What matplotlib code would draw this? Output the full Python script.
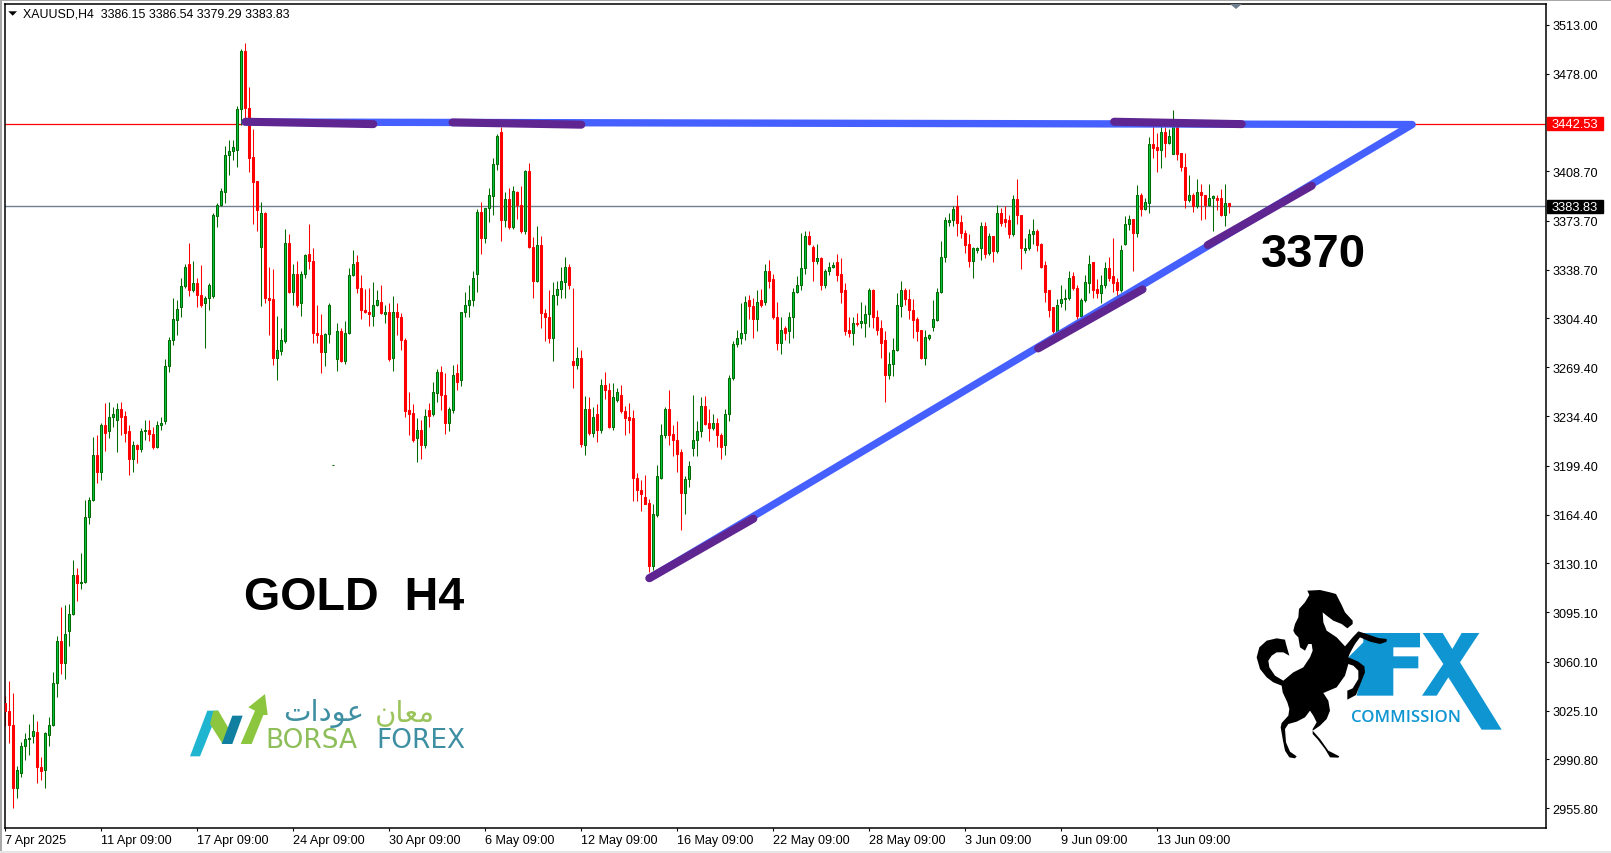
import numpy as np
import matplotlib
matplotlib.use("Agg")
import matplotlib.pyplot as plt
from matplotlib.patches import Polygon, Rectangle
from matplotlib.transforms import blended_transform_factory

plt.rcParams["font.family"] = ["Liberation Sans", "DejaVu Sans"]

# XAUUSD H4 candles
opens = [
    3031, 3025, 3015, 2970, 2981, 3000, 3005, 3007, 3010, 2985,
    2983, 3008, 3015, 3045, 3075, 3059, 3082, 3094, 3122, 3116,
    3117, 3163, 3175, 3207, 3195, 3228, 3224, 3234, 3232, 3240,
    3235, 3224, 3204, 3214, 3211, 3224, 3225, 3222, 3213, 3228,
    3231, 3270, 3289, 3303, 3312, 3327, 3343, 3324, 3329, 3321,
    3315, 3319, 3320, 3377, 3385, 3394, 3420, 3423, 3424, 3453,
    3494, 3454, 3419, 3402, 3355, 3379, 3319, 3318, 3276, 3281,
    3288, 3358, 3323, 3336, 3315, 3336, 3350, 3345, 3294, 3292,
    3280, 3293, 3200, 3275, 3295, 3274, 3294, 3335, 3344, 3326,
    3310, 3309, 3306, 3314, 3316, 3307, 3309, 3276, 3309, 3305,
    3289, 3239, 3237, 3219, 3225, 3214, 3239, 3236, 3251, 3266,
    3250, 3230, 3239, 3265, 3260, 3309, 3314, 3317, 3336, 3380,
    3361, 3383, 3391, 3414, 3437, 3374, 3389, 3369, 3394, 3385,
    3366, 3409, 3355, 3331, 3356, 3308, 3305, 3290, 3321, 3325,
    3330, 3341, 3274, 3271, 3276, 3214, 3240, 3223, 3236, 3225,
    3257, 3253, 3227, 3246, 3250, 3238, 3234, 3233, 3191, 3182,
    3177, 3173, 3128, 3164, 3191, 3221, 3240, 3222, 3218, 3209,
    3180, 3190, 3212, 3218, 3224, 3242, 3230, 3226, 3230, 3221,
    3214, 3236, 3262, 3286, 3290, 3294, 3317, 3313, 3304, 3317,
    3316, 3338, 3332, 3305, 3287, 3297, 3295, 3305, 3323, 3328,
    3340, 3363, 3355, 3345, 3347, 3328, 3338, 3341, 3344, 3336,
    3324, 3296, 3294, 3301, 3301, 3301, 3307, 3324, 3305, 3297,
    3289, 3264, 3272, 3282, 3313, 3324, 3318, 3310, 3304, 3296,
    3276, 3290, 3298, 3303, 3323, 3348, 3373, 3374, 3384, 3373,
    3365, 3357, 3345, 3353, 3354, 3370, 3351, 3363, 3352, 3379,
    3375, 3374, 3364, 3389, 3378, 3353, 3354, 3364, 3366, 3357,
    3342, 3324, 3312, 3295, 3315, 3318, 3319, 3334, 3326, 3306,
    3317, 3329, 3344, 3325, 3322, 3328, 3340, 3334, 3330, 3324,
    3357, 3371, 3375, 3365, 3392, 3382, 3386, 3428, 3426, 3424,
    3437, 3429, 3421, 3443, 3422, 3412, 3388, 3392, 3384, 3394,
    3392, 3385, 3390, 3390, 3390, 3378, 3386.15,
]
highs = [
    3036, 3046, 3038, 2986, 3003, 3009, 3016, 3023, 3018, 2992,
    3010, 3021, 3053, 3078, 3099, 3100, 3101, 3132, 3127, 3137,
    3175, 3177, 3220, 3221, 3230, 3244, 3245, 3241, 3244, 3245,
    3238, 3228, 3217, 3215, 3226, 3232, 3232, 3227, 3231, 3234,
    3275, 3291, 3319, 3317, 3333, 3343, 3358, 3345, 3333, 3342,
    3320, 3329, 3379, 3386, 3397, 3427, 3431, 3431, 3455, 3496,
    3500, 3469, 3439, 3402, 3387, 3380, 3341, 3339, 3306, 3297,
    3368, 3364, 3343, 3345, 3338, 3350, 3371, 3354, 3314, 3307,
    3294, 3315, 3200, 3301, 3297, 3302, 3340, 3353, 3349, 3335,
    3325, 3326, 3330, 3324, 3328, 3314, 3315, 3320, 3315, 3308,
    3290, 3252, 3243, 3233, 3232, 3240, 3244, 3259, 3268, 3270,
    3265, 3241, 3271, 3272, 3309, 3323, 3328, 3338, 3382, 3387,
    3383, 3397, 3418, 3435, 3440, 3394, 3397, 3398, 3395, 3398,
    3410, 3415, 3362, 3370, 3363, 3311, 3324, 3330, 3331, 3341,
    3348, 3343, 3326, 3284, 3282, 3249, 3248, 3241, 3243, 3261,
    3266, 3258, 3258, 3255, 3257, 3242, 3244, 3239, 3194, 3189,
    3193, 3176, 3172, 3200, 3229, 3241, 3253, 3228, 3231, 3211,
    3192, 3203, 3250, 3231, 3248, 3249, 3240, 3236, 3233, 3223,
    3240, 3264, 3288, 3296, 3315, 3320, 3321, 3319, 3324, 3325,
    3343, 3346, 3336, 3316, 3305, 3299, 3309, 3326, 3334, 3365,
    3366, 3366, 3356, 3357, 3348, 3339, 3344, 3344, 3350, 3347,
    3329, 3305, 3305, 3308, 3316, 3314, 3326, 3325, 3310, 3303,
    3295, 3280, 3290, 3322, 3331, 3326, 3325, 3318, 3305, 3296,
    3296, 3293, 3317, 3326, 3359, 3376, 3379, 3384, 3392, 3378,
    3367, 3364, 3355, 3355, 3373, 3373, 3365, 3363, 3385, 3383,
    3384, 3378, 3392, 3403, 3378, 3361, 3368, 3375, 3368, 3358,
    3345, 3324, 3312, 3318, 3328, 3325, 3338, 3337, 3328, 3319,
    3335, 3349, 3344, 3332, 3335, 3344, 3348, 3361, 3333, 3356,
    3377, 3378, 3375, 3399, 3393, 3390, 3433, 3441, 3436, 3441,
    3440, 3439, 3452, 3446, 3422, 3422, 3406, 3393, 3403, 3400,
    3392, 3400, 3392, 3392, 3396, 3400, 3386.54,
]
lows = [
    3014, 3002, 2956, 2963, 2978, 2990, 2994, 3002, 2974, 2976,
    2970, 3000, 3014, 3035, 3051, 3048, 3071, 3093, 3103, 3112,
    3116, 3158, 3174, 3187, 3189, 3210, 3219, 3227, 3209, 3221,
    3216, 3193, 3195, 3201, 3209, 3218, 3217, 3211, 3212, 3225,
    3229, 3266, 3285, 3292, 3305, 3326, 3320, 3323, 3312, 3312,
    3283, 3310, 3319, 3369, 3384, 3386, 3406, 3417, 3412, 3442,
    3447, 3408, 3371, 3366, 3313, 3315, 3292, 3271, 3260, 3278,
    3287, 3322, 3314, 3312, 3306, 3333, 3339, 3287, 3287, 3265,
    3270, 3287, 3200, 3267, 3273, 3272, 3293, 3334, 3322, 3304,
    3308, 3299, 3299, 3313, 3307, 3301, 3274, 3267, 3292, 3282,
    3234, 3221, 3216, 3202, 3204, 3212, 3227, 3235, 3245, 3239,
    3222, 3224, 3237, 3253, 3256, 3305, 3305, 3313, 3323, 3350,
    3358, 3373, 3378, 3410, 3359, 3369, 3368, 3368, 3375, 3365,
    3364, 3354, 3319, 3330, 3297, 3288, 3287, 3274, 3314, 3319,
    3319, 3325, 3255, 3268, 3213, 3207, 3221, 3220, 3216, 3223,
    3247, 3226, 3225, 3245, 3237, 3221, 3223, 3174, 3174, 3167,
    3172, 3124, 3125, 3163, 3190, 3219, 3214, 3206, 3195, 3154,
    3165, 3184, 3206, 3206, 3220, 3228, 3217, 3225, 3213, 3204,
    3207, 3231, 3260, 3284, 3286, 3289, 3304, 3290, 3295, 3312,
    3314, 3326, 3304, 3282, 3279, 3289, 3287, 3290, 3322, 3324,
    3336, 3356, 3331, 3343, 3324, 3326, 3335, 3340, 3331, 3315,
    3292, 3291, 3285, 3299, 3297, 3291, 3298, 3297, 3292, 3276,
    3245, 3261, 3263, 3281, 3305, 3314, 3304, 3290, 3288, 3275,
    3271, 3289, 3295, 3302, 3322, 3344, 3370, 3370, 3363, 3361,
    3351, 3341, 3333, 3351, 3346, 3347, 3349, 3344, 3351, 3370,
    3369, 3361, 3363, 3371, 3339, 3351, 3353, 3357, 3352, 3340,
    3316, 3305, 3294, 3294, 3312, 3310, 3317, 3324, 3304, 3305,
    3316, 3322, 3319, 3319, 3315, 3326, 3331, 3323, 3320, 3323,
    3356, 3367, 3338, 3362, 3377, 3381, 3379, 3418, 3408, 3411,
    3419, 3428, 3421, 3417, 3409, 3383, 3387, 3380, 3383, 3374,
    3375, 3384, 3366, 3381, 3377, 3370, 3379.29,
]
closes = [
    3025, 3015, 2970, 2983, 3000, 3005, 3006, 3011, 2985, 2982,
    3009, 3015, 3045, 3075, 3059, 3080, 3094, 3122, 3116, 3117,
    3163, 3175, 3207, 3195, 3228, 3223, 3234, 3236, 3240, 3234,
    3223, 3204, 3214, 3211, 3224, 3225, 3222, 3213, 3228, 3230,
    3270, 3289, 3304, 3311, 3327, 3341, 3324, 3329, 3321, 3314,
    3319, 3328, 3378, 3385, 3395, 3420, 3423, 3426, 3453, 3494,
    3454, 3418, 3401, 3381, 3379, 3319, 3317, 3276, 3282, 3289,
    3358, 3323, 3336, 3314, 3336, 3349, 3345, 3294, 3292, 3280,
    3293, 3314, 3200, 3295, 3274, 3294, 3335, 3343, 3326, 3310,
    3309, 3307, 3314, 3317, 3308, 3309, 3275, 3309, 3305, 3289,
    3238, 3236, 3218, 3225, 3214, 3235, 3235, 3252, 3266, 3250,
    3230, 3240, 3264, 3259, 3309, 3314, 3317, 3333, 3380, 3361,
    3383, 3392, 3414, 3434, 3374, 3389, 3369, 3395, 3385, 3366,
    3409, 3355, 3331, 3356, 3308, 3305, 3290, 3321, 3325, 3331,
    3341, 3328, 3271, 3276, 3215, 3240, 3223, 3234, 3225, 3257,
    3253, 3227, 3248, 3252, 3238, 3233, 3232, 3191, 3182, 3179,
    3172, 3128, 3165, 3192, 3221, 3240, 3221, 3218, 3208, 3180,
    3190, 3199, 3218, 3224, 3242, 3229, 3226, 3230, 3221, 3213,
    3236, 3262, 3286, 3290, 3294, 3316, 3313, 3304, 3316, 3314,
    3338, 3331, 3305, 3287, 3296, 3294, 3305, 3323, 3328, 3340,
    3363, 3357, 3345, 3347, 3328, 3338, 3341, 3342, 3335, 3323,
    3295, 3294, 3301, 3300, 3302, 3307, 3324, 3305, 3296, 3287,
    3264, 3272, 3282, 3314, 3324, 3318, 3310, 3303, 3295, 3276,
    3291, 3292, 3304, 3323, 3348, 3374, 3374, 3382, 3372, 3365,
    3356, 3345, 3354, 3354, 3370, 3350, 3363, 3352, 3379, 3372,
    3373, 3364, 3389, 3378, 3354, 3354, 3364, 3366, 3356, 3341,
    3323, 3310, 3295, 3314, 3318, 3319, 3333, 3326, 3306, 3317,
    3330, 3343, 3324, 3322, 3328, 3340, 3333, 3329, 3324, 3353,
    3371, 3375, 3365, 3392, 3382, 3387, 3428, 3425, 3424, 3437,
    3429, 3434, 3444, 3421, 3412, 3388, 3392, 3384, 3394, 3392,
    3385, 3390, 3391, 3388, 3378, 3386, 3383.83,
]

price_ticks = [3513.00, 3478.00, 3408.70, 3373.70, 3338.70, 3304.40, 3269.40, 3234.40, 3199.40,
               3164.40, 3130.10, 3095.10, 3060.10, 3025.10, 2990.80, 2955.80]
date_ticks = [0, 24, 48, 72, 96, 120, 144, 168, 192, 216, 240, 264, 288]
date_labels = ["7 Apr 2025", "11 Apr 09:00", "17 Apr 09:00", "24 Apr 09:00", "30 Apr 09:00",
               "6 May 09:00", "12 May 09:00", "16 May 09:00", "22 May 09:00", "28 May 09:00",
               "3 Jun 09:00", "9 Jun 09:00", "13 Jun 09:00"]
resistance_level = 3442.53
last_price = 3383.83

# trend lines as (bar index, price)
triangle_x = [59.9, 351.7, 161.0]
triangle_y = [3443.8, 3442.0, 3119.4]
touch_segments = [
    ([60.1, 92.0], [3444.0, 3442.3]),
    ([111.8, 144.0], [3443.5, 3441.9]),
    ([277.2, 309.1], [3444.0, 3442.3]),
    ([161.0, 187.0], [3119.4, 3161.7]),
    ([258.2, 284.3], [3282.8, 3324.8]),
    ([300.6, 326.6], [3356.3, 3398.5]),
]

W, H = 1611, 854
fig = plt.figure(figsize=(W / 100, H / 100), dpi=100, facecolor="white")

# chart frame in pixels
left, right, top, bottom = 4.5, 1545.7, 4.5, 828.5
ax = fig.add_axes([left / W, 1 - bottom / H, (right - left) / W, (bottom - top) / H])
ax.set_xlim((left - 5.33) / 4, (right - 5.33) / 4)
ax.set_ylim(3531.27 - 0.71108 * bottom, 3531.27 - 0.71108 * top)

for side in ax.spines.values():
    side.set_linewidth(1.1)
    side.set_color("black")

# horizontal price lines
ax.axhline(resistance_level, color="#ff0000", lw=0.9, zorder=1)
ax.axhline(last_price, color="#708090", lw=1.0, zorder=1)

# candles
x = np.arange(len(opens))
o, h, l, c = map(np.array, (opens, highs, lows, closes))
up = c >= o
ax.vlines(x[up], l[up], h[up], color="#006a00", lw=0.75, zorder=2)
ax.vlines(x[~up], l[~up], h[~up], color="#ff0000", lw=0.75, zorder=2)
ax.bar(x[up], (c - o)[up], bottom=o[up], width=0.5, color="#00c83c", edgecolor="#006a00",
       linewidth=0.75, zorder=3)
ax.bar(x[~up], (c - o)[~up], bottom=o[~up], width=0.5, color="#ff0000", edgecolor="#ff0000",
       linewidth=0.75, zorder=3)

# triangle and the purple touches on it
ax.plot(triangle_x, triangle_y, color="#4560ff", lw=5.3, solid_capstyle="round",
        solid_joinstyle="round", zorder=4)
for seg_x, seg_y in touch_segments:
    ax.plot(seg_x, seg_y, color="#5f2590", lw=5.8, solid_capstyle="round", zorder=5)

# axis ticks
ax.yaxis.tick_right()
ax.set_yticks(price_ticks)
ax.set_yticklabels(["%.2f" % v for v in price_ticks], fontsize=9.1)
ax.tick_params(axis="y", length=2.5, width=0.8, pad=2.2)
ax.set_xticks(date_ticks)
ax.set_xticklabels(date_labels, fontsize=9.1, ha="left")
ax.tick_params(axis="x", length=2.5, width=0.8, pad=2.5)

# price boxes on the right scale
tr = blended_transform_factory(ax.transAxes, ax.transData)
box_x = 1 + 1.3 / (right - left)
box_w = 55.7 / (right - left)
for level, bg in ((resistance_level, "#ff0000"), (last_price, "#000000")):
    ax.add_patch(Rectangle((box_x, level - 4.6), box_w, 9.2, transform=tr, color=bg, clip_on=False, zorder=6))
    ax.text(1 + 5.5 / (right - left), level - 0.3, "%.2f" % level, transform=tr, color="white", fontsize=9.3,
            va="center", ha="left", zorder=7, clip_on=False)

# everything below is placed in picture pixels
over = fig.add_axes([0, 0, 1, 1], facecolor="none")
over.set_xlim(0, W)
over.set_ylim(H, 0)
over.axis("off")

# window edges
over.add_patch(Rectangle((0, 0), 2, H, color="#a8a8a8", lw=0))
over.add_patch(Rectangle((0, 0), W, 1.5, color="#a8a8a8", lw=0))
over.add_patch(Rectangle((0, 851.5), W, 2.5, color="#e6e6e6", lw=0))

# header
over.add_patch(Polygon([(8.3, 12.3), (17, 12.3), (12.7, 16.7)], color="black", lw=0))
over.text(22.7, 14.6, "XAUUSD,H4  3386.15 3386.54 3379.29 3383.83", fontsize=8.95, va="center", ha="left")
over.add_patch(Polygon([(1230, 5), (1242, 5), (1236, 10)], color="#6d7f90", lw=0))

# big labels
over.text(244, 598, "GOLD  H4", fontsize=33.6, fontweight="bold", va="center", ha="left", color="black")
over.text(1261, 255, "3370", fontsize=34, fontweight="bold", va="center", ha="left", color="black")


def crop_pts(pts, x0, y0):
    # points were read on a 3x crop starting at (x0, y0)
    return np.array(pts, dtype=float) / 3 + [x0, y0]


# BorsaForex logo
over.add_patch(Polygon(crop_pts([(570, 472), (622, 335), (655, 335), (600, 472)], 0, 600), color="#1fb4cf", lw=0))
over.add_patch(Polygon(crop_pts([(640, 335), (655, 335), (690, 395), (668, 435), (630, 375)], 0, 600),
                       color="#8cc63f", lw=0))
over.add_patch(Polygon(crop_pts([(697, 350), (728, 350), (697, 435), (665, 435)], 0, 600), color="#117f9f", lw=0))
over.add_patch(Polygon(crop_pts([(795, 285), (745, 325), (765, 335), (722, 435), (755, 435), (790, 348), (803, 348)],
                                0, 600), color="#8cc63f", lw=0))
over.text(265.5, 741.5, "BORSA", fontsize=19, color="#8dbe5a", family="DejaVu Sans", va="center", ha="left")
over.text(376, 741.5, "FOREX", fontsize=19, color="#3f8fa3", family="DejaVu Sans", va="center", ha="left")
over.text(324, 714, "\ufe95\ufe8d\ufea9\ufeee\ufecb", fontsize=21, color="#3f8fa3", family="DejaVu Sans",
          va="center", ha="center")
over.text(405, 714, "\ufee5\ufe8e\ufecc\ufee3", fontsize=21, color="#9cc45c", family="DejaVu Sans",
          va="center", ha="center")

# FX Commission logo
blue = "#0f96d2"
f_pts = [(400, 192), (570, 192), (570, 235), (490, 235), (490, 262), (565, 262), (565, 298), (490, 298), (490, 380),
         (380, 380), (400, 300), (355, 265), (400, 220)]
x_pts = [(578, 192), (638, 192), (667, 240), (695, 192), (748, 192), (690, 280), (815, 482), (755, 482), (655, 325),
         (620, 380), (576, 380), (640, 285)]
over.add_patch(Polygon(crop_pts(f_pts, 1230, 570), color=blue, lw=0))
over.add_patch(Polygon(crop_pts(x_pts, 1230, 570), color=blue, lw=0))
over.text(1350.5, 718.5, "COMMISSION", fontsize=12.1, color=blue, family="Open Sans", fontweight="semibold",
          va="center", ha="left")
horse = [(232, 65), (270, 63), (300, 70), (318, 75), (335, 108), (345, 130), (368, 155), (368, 165), (352, 178),
         (335, 165), (310, 155), (290, 140), (278, 130), (280, 160), (290, 185), (320, 205), (345, 232), (368, 205),
         (385, 187), (410, 195), (445, 207), (470, 210), (470, 218), (450, 225), (420, 218), (390, 205), (375, 225),
         (360, 252), (355, 265), (385, 278), (403, 292), (405, 310), (395, 335), (378, 378), (352, 392), (352, 365),
         (368, 358), (385, 330), (385, 305), (370, 290), (355, 285), (345, 320), (320, 355), (280, 372), (295, 395),
         (300, 425), (290, 450), (270, 470), (248, 485), (270, 510), (295, 545), (328, 562), (325, 566), (300, 565),
         (285, 540), (262, 510), (248, 495), (248, 480), (260, 460), (250, 440), (240, 425), (225, 445), (200, 458),
         (175, 465), (165, 480), (168, 520), (180, 548), (200, 562), (195, 568), (178, 565), (165, 545), (158, 510),
         (152, 475), (155, 462), (175, 440), (178, 420), (172, 400), (158, 370), (155, 350), (130, 340), (110, 325),
         (90, 300), (80, 265), (88, 235), (110, 215), (140, 208), (165, 212), (168, 225), (178, 260), (160, 250),
         (140, 250), (125, 260), (115, 275), (118, 295), (135, 320), (160, 335), (190, 310), (220, 295), (240, 265),
         (248, 245), (245, 225), (235, 225), (225, 245), (210, 235), (205, 205), (195, 195), (190, 185), (195, 165),
         (205, 145), (207, 120), (225, 100), (238, 78)]
over.add_patch(Polygon(crop_pts(horse, 1230, 570), color="black", lw=0))

fig.savefig("out.png", dpi=100)
